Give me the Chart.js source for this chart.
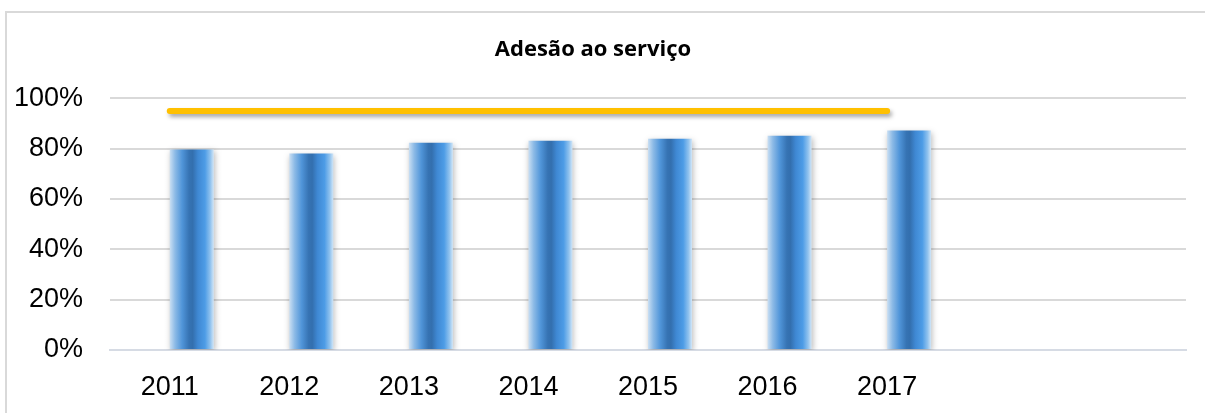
<!DOCTYPE html>
<html lang="pt">
<head>
<meta charset="utf-8">
<title>Adesão ao serviço</title>
<script src="https://cdn.jsdelivr.net/npm/chart.js@4"></script>
<style>
  html, body { margin: 0; padding: 0; background: #ffffff; overflow: hidden; width: 1205px; height: 413px; }
  #wrap { position: absolute; left: 0; top: 0; width: 1205px; height: 413px; z-index: 1; }
  #frame {
    position: absolute; left: 5px; top: 11px; width: 1600px; height: 800px;
    border: 2px solid #d9d9d9; box-sizing: border-box; z-index: 2; pointer-events: none;
  }
</style>
</head>
<body>
<div id="wrap"><canvas id="chart" width="1205" height="413"></canvas></div>
<div id="frame"></div>
<script>
// Anos e valores de adesão (%)
const years = ['2011', '2012', '2013', '2014', '2015', '2016', '2017', '', ''];
const adesao = [79.7, 78.1, 82.4, 83.2, 84.0, 85.2, 87.2, null, null];
const meta = [95, 95, 95, 95, 95, 95, 95, null, null];
const vazio = [null, null, null, null, null, null, null, null, null];
const yTicks = [0, 20, 40, 60, 80, 100];

const CAT_PCT = 0.736;

// horizontal "cylinder" gradient for each bar (bar sits in the second slot)
function barGradient(ctx) {
  const chart = ctx.chart;
  const x = chart.scales && chart.scales.x;
  if (!x || !chart.chartArea) return '#4a8fd6';
  const cat = x.width / years.length;
  const slot = cat * CAT_PCT / 2;
  const center = x.getPixelForValue(ctx.dataIndex) + slot / 2;
  const l = center - slot / 2, r = center + slot / 2;
  const g = chart.ctx.createLinearGradient(l, 0, r, 0);
  g.addColorStop(0.00, '#cadff3');
  g.addColorStop(0.12, '#8cbae6');
  g.addColorStop(0.28, '#5095d9');
  g.addColorStop(0.44, '#3673b3');
  g.addColorStop(0.52, '#336fae');
  g.addColorStop(0.64, '#3f88d3');
  g.addColorStop(0.80, '#4d9ce6');
  g.addColorStop(0.92, '#90c2ee');
  g.addColorStop(1.00, '#d2e6f7');
  return g;
}

// soft drop shadows under bars and the target line
const shadowPlugin = {
  id: 'shadows',
  beforeDatasetDraw(chart, args) {
    const c = chart.ctx;
    c.save();
    if (args.index === 2) {
      c.shadowColor = 'rgba(0,0,0,0.35)';
      c.shadowBlur = 4; c.shadowOffsetX = 2; c.shadowOffsetY = 3;
    } else if (args.index === 1) {
      c.shadowColor = 'rgba(0,0,0,0.28)';
      c.shadowBlur = 6; c.shadowOffsetX = 1; c.shadowOffsetY = 2;
    }
  },
  afterDatasetDraw(chart) { chart.ctx.restore(); }
};

const bg = {
  id: 'bg',
  beforeDraw(chart) {
    const c = chart.ctx;
    c.save(); c.fillStyle = '#ffffff';
    c.fillRect(0, 0, chart.width, chart.height); c.restore();
  }
};

const tickFont = { family: '"Liberation Sans Narrow", "Arial Narrow", "Liberation Sans", Arial, sans-serif', size: 27 };

new Chart(document.getElementById('chart'), {
  data: {
    labels: years,
    datasets: [
      { type: 'bar', label: '', data: vazio, order: 2,
        categoryPercentage: CAT_PCT, barPercentage: 1 },
      { type: 'bar', label: 'Adesão', data: adesao, order: 3,
        backgroundColor: barGradient, borderWidth: 0,
        categoryPercentage: CAT_PCT, barPercentage: 1 },
      { type: 'line', label: 'Meta', data: meta, order: 1,
        borderColor: '#ffc000', borderWidth: 6, borderCapStyle: 'round',
        pointRadius: 0, fill: false, tension: 0, spanGaps: false }
    ]
  },
  options: {
    responsive: false,
    animation: false,
    devicePixelRatio: 1,
    layout: { padding: { left: 0, right: 19, top: 0, bottom: 0 } },
    plugins: {
      legend: { display: false },
      tooltip: { enabled: false },
      title: {
        display: true,
        text: 'Adesão ao serviço',
        color: '#000000',
        font: { family: '"Open Sans", "Liberation Sans", sans-serif', size: 22, weight: 'bold' },
        padding: { top: 37, bottom: 35 }
      }
    },
    scales: {
      x: {
        afterFit(scale) { scale.height = 63; },
        grid: { display: false, drawTicks: false },
        border: { display: true, color: '#d6dbe4', width: 2 },
        ticks: {
          color: '#000000', padding: 21, maxRotation: 0, autoSkip: false,
          font: tickFont
        }
      },
      y: {
        min: 0, max: 100,
        afterFit(scale) { scale.width = 110; },
        afterBuildTicks(scale) { scale.ticks = yTicks.map(v => ({ value: v })); },
        grid: { color: '#d9d9d9', lineWidth: 2, drawTicks: false },
        border: { display: false },
        ticks: {
          color: '#000000', padding: 27,
          callback: v => v + '%',
          font: tickFont
        }
      }
    }
  },
  plugins: [bg, shadowPlugin]
});
</script>
</body>
</html>
